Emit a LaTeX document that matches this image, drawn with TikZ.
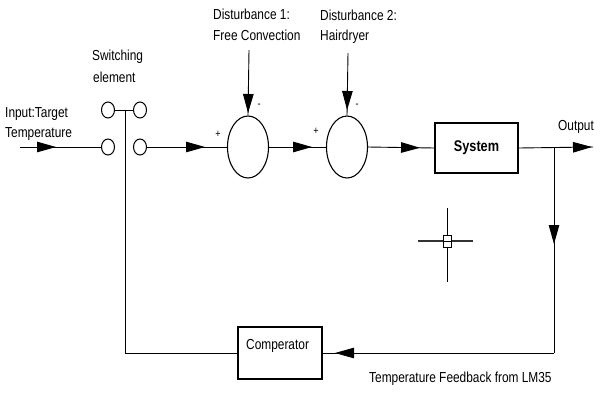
\documentclass[tikz,border=0pt]{standalone}
\usepackage{fontspec}
\setmainfont{Liberation Sans}[FakeStretch=0.82]
\usetikzlibrary{shapes.geometric,arrows.meta,decorations.markings}
\tikzset{
  lbl/.style={inner sep=0pt,anchor=base west,font=\fontsize{14.5pt}{17pt}\selectfont},
  sgn/.style={inner sep=0pt,font=\fontsize{11pt}{13pt}\selectfont},
  summer/.style={draw,line width=1.1pt,ellipse,minimum width=41pt,minimum height=62pt,inner sep=0pt},
  contact/.style={draw,line width=1pt,ellipse,minimum width=13pt,minimum height=16pt,inner sep=0pt},
  blockbox/.style={draw,line width=1.1pt,rectangle,inner sep=0pt},
  wire/.style={line width=0.9pt},
  tipat/.style={postaction={decorate,decoration={markings,
      mark=at position #1 with {\arrow{Triangle[length=19pt,width=10.5pt]}}}}},
}
\begin{document}
\begin{tikzpicture}[x=1pt,y=-1pt]
\useasboundingbox[fill=white] (0,0) rectangle (600,400);

% switching contacts
\node[contact] (c1) at (108,110) {};
\node[contact] (c2) at (140,110) {};
\node[contact] (c3) at (108,147) {};
\node[contact] (c4) at (140,147) {};
\coordinate (inp) at (20,147);
\coordinate (swtop) at (125,110);

% summing junctions
\node[summer] (s1) at (248,147) {};
\node[summer] (s2) at (347,147) {};
\coordinate (d1) at (249,50);
\coordinate (d2) at (348,53);

% blocks
\node[blockbox,minimum width=83pt,minimum height=50pt,font=\fontsize{15.5pt}{17pt}\selectfont\bfseries] (sys) at (476.5,148) {System};
\node[blockbox,minimum width=84pt,minimum height=52pt] (comp) at (280,353) {};
\node[lbl] (comptxt) at (246,349) {Comperator};

\coordinate (out) at (593,147);
\coordinate (br) at (554,147);
\coordinate (corner) at (554,353);

% texts
\node[lbl] (t1a) at (5,117) {Input:Target};
\node[lbl] (t1b) at (5,137) {Temperature};
\node[lbl] (t2a) at (92,60) {Switching};
\node[lbl] (t2b) at (93,82) {element};
\node[lbl] (t3a) at (213,19) {Disturbance 1:};
\node[lbl] (t3b) at (213,40) {Free Convection};
\node[lbl] (t4a) at (320,20) {Disturbance 2:};
\node[lbl] (t4b) at (320,40) {Hairdryer};
\node[lbl] (t5) at (558,130) {Output};
\node[lbl] (t6) at (369,382) {Temperature Feedback from LM35};
\node[sgn] (m1) at (259,106) {-};
\node[sgn] (m2) at (357,106) {-};
\node[sgn] (p1) at (218,134) {+};
\node[sgn] (p2) at (316,131) {+};

% connectors
\draw[wire,tipat=36pt] (inp) -- (c3.west);
\draw[wire] (c1.east) -- (c2.west);
\draw[wire] (swtop) |- (comp.west);
\draw[wire,tipat=58pt] (c4.east) -- (s1.west);
\draw[wire,tipat=43pt] (s1.east) -- (s2.west);
\draw[wire,tipat=52pt] (s2.east) -- (sys.west);
\draw[wire,tipat=63pt] (d1) -- (s1.north);
\draw[wire,tipat=57pt] (d2) -- (s2.north);
\draw[wire,tipat=-1pt] (sys.east) -- (out);
\draw[wire,tipat=97pt] (br) -- (corner);
\draw[wire,tipat=219pt] (corner) -- (comp.east);

% cursor mark
\draw[line width=1.3pt,black!80] (418,241) -- (473,241);
\draw[line width=1pt] (447,208) -- (447,282);
\draw[fill=white,line width=0.8pt] (443,235) rectangle (451,247);
\draw[line width=0.6pt] (443,241) -- (451,241);
\end{tikzpicture}
\end{document}
